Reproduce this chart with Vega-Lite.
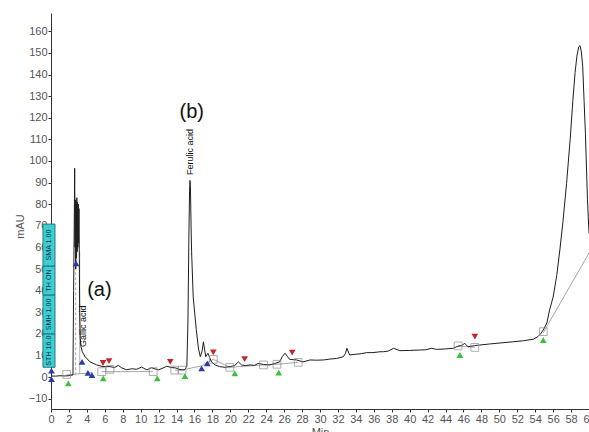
{
  "$schema": "https://vega.github.io/schema/vega-lite/v6.json",
  "width": 538,
  "height": 396,
  "autosize": {"type": "none"},
  "padding": {"left": 51, "top": 13, "right": 0, "bottom": 23},
  "background": "white",
  "config": {
    "view": {"stroke": null},
    "font": "Liberation Sans",
    "axis": {
      "labelFont": "Liberation Sans",
      "titleFont": "Liberation Sans",
      "labelFontSize": 11,
      "titleFontSize": 11,
      "titleFontWeight": "normal",
      "labelColor": "#555555",
      "titleColor": "#555555",
      "domainColor": "#333333",
      "tickColor": "#333333",
      "tickSize": 3,
      "labelPadding": 1,
      "grid": false
    }
  },
  "datasets": {
    "trace": [
      {"t": 0, "v": 0.5}, {"t": 0.5, "v": 0.4}, {"t": 1.0, "v": 0.6}, {"t": 1.5, "v": 0.5}, {"t": 2.0, "v": 0.6},
      {"t": 2.45, "v": 1}, {"t": 2.52, "v": 40}, {"t": 2.6, "v": 75}, {"t": 2.64, "v": 96.6}, {"t": 2.68, "v": 60},
      {"t": 2.72, "v": 82}, {"t": 2.76, "v": 50}, {"t": 2.8, "v": 80}, {"t": 2.84, "v": 55}, {"t": 2.88, "v": 83},
      {"t": 2.92, "v": 58}, {"t": 2.96, "v": 81}, {"t": 3.0, "v": 60}, {"t": 3.04, "v": 80}, {"t": 3.08, "v": 62},
      {"t": 3.12, "v": 78}, {"t": 3.16, "v": 55}, {"t": 3.2, "v": 30}, {"t": 3.26, "v": 18}, {"t": 3.35, "v": 14},
      {"t": 3.49, "v": 11.7}, {"t": 3.8, "v": 9.4}, {"t": 4.35, "v": 7}, {"t": 5.1, "v": 5.6}, {"t": 5.8, "v": 4.8},
      {"t": 6.58, "v": 4.8}, {"t": 7.1, "v": 4.4}, {"t": 7.5, "v": 5.4}, {"t": 7.9, "v": 4.2}, {"t": 8.4, "v": 3.4},
      {"t": 9.0, "v": 3.8}, {"t": 9.55, "v": 3.6}, {"t": 10.1, "v": 4.6}, {"t": 10.7, "v": 3.3}, {"t": 11.2, "v": 4.3},
      {"t": 12.0, "v": 3.3}, {"t": 12.5, "v": 4.2}, {"t": 12.9, "v": 5}, {"t": 13.4, "v": 4.4}, {"t": 13.9, "v": 4.2},
      {"t": 14.4, "v": 3.4}, {"t": 14.9, "v": 3.3}, {"t": 15.15, "v": 5}, {"t": 15.27, "v": 25}, {"t": 15.37, "v": 62},
      {"t": 15.45, "v": 86}, {"t": 15.5, "v": 91}, {"t": 15.55, "v": 88}, {"t": 15.62, "v": 70}, {"t": 15.68, "v": 58},
      {"t": 15.86, "v": 37}, {"t": 16.2, "v": 22}, {"t": 16.45, "v": 13}, {"t": 16.65, "v": 9.4}, {"t": 16.85, "v": 12},
      {"t": 17.0, "v": 16.3}, {"t": 17.12, "v": 13}, {"t": 17.25, "v": 9.4}, {"t": 17.5, "v": 11}, {"t": 17.9, "v": 7},
      {"t": 18.3, "v": 5.6}, {"t": 18.8, "v": 4.8}, {"t": 19.4, "v": 4.5}, {"t": 20.0, "v": 4.8}, {"t": 20.5, "v": 5.4},
      {"t": 20.9, "v": 7}, {"t": 21.25, "v": 5.6}, {"t": 21.7, "v": 5.3}, {"t": 22.2, "v": 5.6}, {"t": 22.7, "v": 5.4},
      {"t": 23.1, "v": 6.3}, {"t": 23.7, "v": 5.8}, {"t": 24.4, "v": 5.6}, {"t": 24.9, "v": 6.2}, {"t": 25.5, "v": 7},
      {"t": 25.8, "v": 9.5}, {"t": 26.1, "v": 11}, {"t": 26.35, "v": 9.6}, {"t": 26.6, "v": 8.2}, {"t": 27.4, "v": 7.9},
      {"t": 28.1, "v": 7}, {"t": 28.9, "v": 7.9}, {"t": 29.6, "v": 7.8}, {"t": 30.4, "v": 7.9}, {"t": 31.1, "v": 8.3},
      {"t": 31.85, "v": 8.6}, {"t": 32.6, "v": 9.4}, {"t": 32.85, "v": 11}, {"t": 33.0, "v": 13.3}, {"t": 33.3, "v": 10.2},
      {"t": 34.1, "v": 10.6}, {"t": 34.6, "v": 10.8}, {"t": 35.2, "v": 11.3}, {"t": 35.9, "v": 11.3}, {"t": 36.7, "v": 11.7},
      {"t": 37.05, "v": 11.7}, {"t": 37.6, "v": 12}, {"t": 38.2, "v": 13.3}, {"t": 38.9, "v": 12.2}, {"t": 40.0, "v": 12.3},
      {"t": 41.1, "v": 12.5}, {"t": 41.8, "v": 12.6}, {"t": 42.4, "v": 13.3}, {"t": 43.0, "v": 12.8}, {"t": 44.0, "v": 13},
      {"t": 44.85, "v": 13.3}, {"t": 45.4, "v": 14.3}, {"t": 45.8, "v": 14.6}, {"t": 46.15, "v": 15.6}, {"t": 46.5, "v": 14},
      {"t": 47.2, "v": 14.5}, {"t": 47.8, "v": 14.8}, {"t": 48.9, "v": 15.3}, {"t": 50.2, "v": 15.8}, {"t": 51.5, "v": 16.3},
      {"t": 52.7, "v": 16.8}, {"t": 53.8, "v": 17.5}, {"t": 54.3, "v": 18.7}, {"t": 54.6, "v": 20}, {"t": 54.9, "v": 21.8},
      {"t": 55.3, "v": 25}, {"t": 55.6, "v": 31}, {"t": 56.0, "v": 37}, {"t": 56.4, "v": 47}, {"t": 56.75, "v": 58.8},
      {"t": 57.1, "v": 72}, {"t": 57.5, "v": 89.7}, {"t": 57.9, "v": 110}, {"t": 58.2, "v": 128}, {"t": 58.45, "v": 141},
      {"t": 58.65, "v": 148.5}, {"t": 58.85, "v": 152.8}, {"t": 59.0, "v": 153.4}, {"t": 59.15, "v": 150.5}, {"t": 59.3, "v": 143.6},
      {"t": 59.45, "v": 128}, {"t": 59.6, "v": 112.8}, {"t": 59.83, "v": 82}, {"t": 60.0, "v": 66.6}
    ],
    "base": [
      {"seg": "a", "t": 1.75, "v": 1.0}, {"seg": "a", "t": 4.6, "v": 2.0},
      {"seg": "b", "t": 5.65, "v": 2.5}, {"seg": "b", "t": 11.4, "v": 2.5},
      {"seg": "c", "t": 13.8, "v": 3.2}, {"seg": "c", "t": 14.6, "v": 3.2}, {"seg": "c", "t": 16.8, "v": 5.2},
      {"seg": "c", "t": 18.1, "v": 8.2}, {"seg": "c", "t": 19.95, "v": 4.5}, {"seg": "c", "t": 23.7, "v": 5.6},
      {"seg": "c", "t": 25.2, "v": 5.9}, {"seg": "c", "t": 27.57, "v": 6.8},
      {"seg": "d", "t": 45.4, "v": 14.4}, {"seg": "d", "t": 47.27, "v": 13.7},
      {"seg": "e", "t": 54.9, "v": 20.5}, {"seg": "e", "t": 60.0, "v": 57.4}
    ],
    "drops": [
      {"t": 2.75, "v": 0.8, "v2": 52, "style": "dash"},
      {"t": 3.2, "v": 1.5, "v2": 58, "style": "solid"}
    ],
    "marks": [
      {"kind": "green", "t": 1.93, "v": -2.9},
      {"kind": "green", "t": 5.83, "v": -0.6},
      {"kind": "green", "t": 11.85, "v": -0.6},
      {"kind": "green", "t": 14.94, "v": 0.4},
      {"kind": "green", "t": 20.5, "v": 1.7},
      {"kind": "green", "t": 25.4, "v": 2.0},
      {"kind": "green", "t": 45.6, "v": 10.2},
      {"kind": "green", "t": 54.9, "v": 17.1},
      {"kind": "blue", "t": 0.05, "v": 3},
      {"kind": "blue", "t": 0.05, "v": -1},
      {"kind": "blue", "t": 2.79, "v": 52.6},
      {"kind": "blue", "t": 3.46, "v": 7},
      {"kind": "blue", "t": 4.12, "v": 1.9},
      {"kind": "blue", "t": 4.57, "v": 0.9},
      {"kind": "blue", "t": 16.8, "v": 4},
      {"kind": "blue", "t": 17.43, "v": 6.3},
      {"kind": "red", "t": 5.8, "v": 6.5},
      {"kind": "red", "t": 6.47, "v": 7.4},
      {"kind": "red", "t": 13.3, "v": 7},
      {"kind": "red", "t": 18.1, "v": 11.4},
      {"kind": "red", "t": 21.6, "v": 8.3},
      {"kind": "red", "t": 26.9, "v": 11.3},
      {"kind": "red", "t": 47.27, "v": 18.7}
    ],
    "squares": [
      {"t": 1.75, "v": 1.2}, {"t": 5.65, "v": 2.5}, {"t": 6.58, "v": 3.6}, {"t": 11.4, "v": 2.5},
      {"t": 13.8, "v": 3.2}, {"t": 14.6, "v": 3.2}, {"t": 18.1, "v": 8.2}, {"t": 19.95, "v": 4.5},
      {"t": 23.7, "v": 5.6}, {"t": 25.2, "v": 5.9}, {"t": 27.57, "v": 6.8}, {"t": 45.4, "v": 14.4},
      {"t": 47.27, "v": 13.7}, {"t": 54.9, "v": 21}
    ],
    "box": [
      {"t1": -0.9, "t2": 0.45, "lo": 4.5, "hi": 20, "label": "STH 16.0"},
      {"t1": -0.9, "t2": 0.45, "lo": 20, "hi": 38, "label": "SMH 1.00"},
      {"t1": -0.9, "t2": 0.45, "lo": 38, "hi": 51.4, "label": "TH ON"},
      {"t1": -0.9, "t2": 0.45, "lo": 51.4, "hi": 70.8, "label": "SMA 1.00"}
    ],
    "big": [
      {"t": 5.4, "v": 40.3, "label": "(a)"},
      {"t": 15.7, "v": 122.7, "label": "(b)"}
    ],
    "names": [
      {"t": 3.53, "v": 13.9, "label": "Gallic acid"},
      {"t": 15.5, "v": 93.5, "label": "Ferulic acid"}
    ]
  },
  "encoding": {
    "x": {
      "field": "t", "type": "quantitative",
      "scale": {"domain": [0, 60], "nice": false, "zero": false},
      "axis": {"values": [0,2,4,6,8,10,12,14,16,18,20,22,24,26,28,30,32,34,36,38,40,42,44,46,48,50,52,54,56,58,60], "title": "Min", "titlePadding": 2, "labelOverlap": false, "labelFlush": false}
    },
    "y": {
      "field": "v", "type": "quantitative",
      "scale": {"domain": [-14.8, 168.5], "nice": false, "zero": false},
      "axis": {"values": [-10,0,10,20,30,40,50,60,70,80,90,100,110,120,130,140,150,160], "title": "mAU", "titlePadding": 3, "titleY": 213, "labelOverlap": false, "labelFlush": false}
    }
  },
  "layer": [
    {
      "mark": {"type": "rule", "color": "#999999", "strokeWidth": 1.5},
      "encoding": {"x": null, "y": {"datum": 168.5, "type": "quantitative"}}
    },
    {
      "data": {"name": "base"},
      "mark": {"type": "line", "color": "#a6a6a6", "strokeWidth": 1},
      "encoding": {"detail": {"field": "seg", "type": "nominal"}}
    },
    {
      "data": {"name": "drops"},
      "mark": {"type": "rule", "color": "#aaaaaa", "strokeWidth": 1},
      "encoding": {
        "y2": {"field": "v2"},
        "strokeDash": {"field": "style", "type": "nominal", "scale": {"domain": ["dash", "solid"], "range": [[3, 2], [1, 0]]}, "legend": null}
      }
    },
    {
      "data": {"name": "trace"},
      "mark": {"type": "line", "color": "#1e1e1e", "strokeWidth": 1}
    },
    {
      "data": {"name": "squares"},
      "mark": {"type": "point", "shape": "square", "filled": false, "stroke": "#8c8c8c", "strokeWidth": 1, "size": 60}
    },
    {
      "data": {"name": "marks"},
      "mark": {"type": "point", "filled": true, "size": 45, "opacity": 1},
      "encoding": {
        "color": {"field": "kind", "type": "nominal", "scale": {"domain": ["green", "blue", "red"], "range": ["#3cc03c", "#2a3aa8", "#c0282a"]}, "legend": null},
        "shape": {"field": "kind", "type": "nominal", "scale": {"domain": ["green", "blue", "red"], "range": ["triangle-up", "triangle-up", "triangle-down"]}, "legend": null}
      }
    },
    {
      "data": {"name": "box"},
      "mark": {"type": "rect", "fill": "#3ccfd0", "stroke": "#1b5e6e", "strokeWidth": 0.8},
      "encoding": {
        "x": {"field": "t1", "type": "quantitative"},
        "x2": {"field": "t2"},
        "y": {"field": "lo", "type": "quantitative"},
        "y2": {"field": "hi"}
      }
    },
    {
      "data": {"name": "box"},
      "transform": [{"calculate": "(datum.t1 + datum.t2) / 2", "as": "tm"}, {"calculate": "(datum.lo + datum.hi) / 2", "as": "vm"}],
      "mark": {"type": "text", "angle": 270, "fontSize": 7.2, "color": "#10305a", "align": "center", "baseline": "middle"},
      "encoding": {
        "x": {"field": "tm", "type": "quantitative"},
        "y": {"field": "vm", "type": "quantitative"},
        "text": {"field": "label"}
      }
    },
    {
      "data": {"name": "big"},
      "mark": {"type": "text", "fontSize": 20, "color": "#111111", "align": "center", "baseline": "middle"},
      "encoding": {"text": {"field": "label"}}
    },
    {
      "data": {"name": "names"},
      "mark": {"type": "text", "angle": 270, "fontSize": 9, "color": "#111111", "align": "left", "baseline": "middle"},
      "encoding": {"text": {"field": "label"}}
    }
  ]
}
